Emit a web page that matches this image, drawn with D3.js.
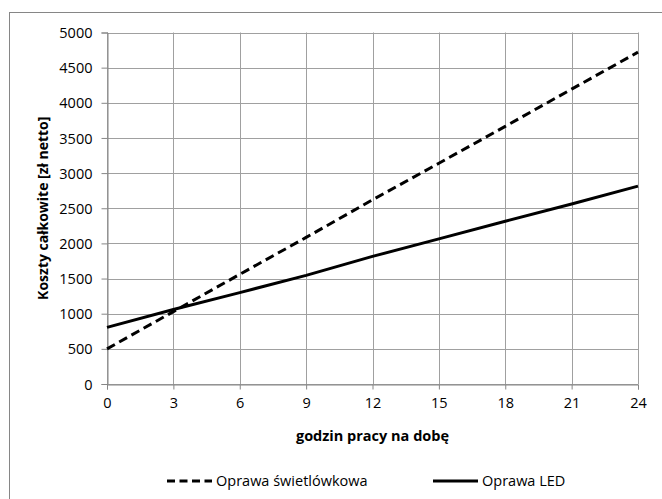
<!DOCTYPE html>
<html lang="pl">
<head>
<meta charset="utf-8">
<title>Koszty całkowite</title>
<script src="https://cdnjs.cloudflare.com/ajax/libs/d3/7.8.5/d3.min.js"></script>
<style>
  body { margin: 0; background: #fff; }
  svg text { font-family: "Open Sans", sans-serif; fill: #000; }
</style>
</head>
<body>
<div id="chart"></div>
<script>
// godziny pracy na dobę
const hours = [0, 3, 6, 9, 12, 15, 18, 21, 24];
// koszty całkowite [zł netto]
const fluorescent = [500, 1030, 1560, 2085, 2620, 3140, 3665, 4195, 4720];
const led = [805, 1060, 1300, 1545, 1815, 2065, 2315, 2560, 2815];
const xTicks = [0, 3, 6, 9, 12, 15, 18, 21, 24];
const yTicks = [0, 500, 1000, 1500, 2000, 2500, 3000, 3500, 4000, 4500, 5000];
const seriesNames = ['Oprawa świetlówkowa', 'Oprawa LED'];

const W = 662, H = 499;
const plotL = 107, plotR = 638, plotT = 32.5, plotB = 384;

const svg = d3.select('#chart').append('svg')
  .attr('width', W)
  .attr('height', H);

// outer frame
svg.append('rect')
  .attr('x', 9.5).attr('y', 12.5)
  .attr('width', 660).attr('height', 500)
  .attr('fill', 'none')
  .attr('stroke', '#868686')
  .attr('stroke-width', 1);

const x = d3.scaleLinear().domain([0, 24]).range([plotL, plotR]);
const y = d3.scaleLinear().domain([0, 5000]).range([plotB, plotT]);

// grid
svg.append('g')
  .selectAll('line')
  .data(yTicks)
  .enter().append('line')
  .attr('x1', plotL).attr('x2', plotR)
  .attr('y1', d => Math.round(y(d)) + 0.5)
  .attr('y2', d => Math.round(y(d)) + 0.5)
  .attr('stroke', '#a0a0a0');

svg.append('g')
  .selectAll('line')
  .data(xTicks)
  .enter().append('line')
  .attr('y1', plotT).attr('y2', plotB)
  .attr('x1', d => Math.round(x(d)) + 0.5)
  .attr('x2', d => Math.round(x(d)) + 0.5)
  .attr('stroke', '#a0a0a0');

// axes
const xAxis = svg.append('g')
  .attr('transform', 'translate(0,' + (Math.round(plotB) + 0.5) + ')')
  .call(d3.axisBottom(x).tickValues(xTicks).tickSize(5).tickPadding(8).tickFormat(d3.format('d')));
const yAxis = svg.append('g')
  .attr('transform', 'translate(' + (plotL + 0.5) + ',0)')
  .call(d3.axisLeft(y).tickValues(yTicks).tickSize(6).tickPadding(9).tickFormat(d3.format('d')));

[xAxis, yAxis].forEach(a => {
  a.select('.domain').attr('stroke', '#868686');
  a.selectAll('.tick line').attr('stroke', '#868686');
  a.selectAll('.tick text')
    .attr('font-size', '14.5px')
    .attr('font-family', '"Open Sans", sans-serif')
    .attr('fill', '#000');
});
yAxis.selectAll('.tick text').attr('dy', '0.35em');

// axis titles
svg.append('text')
  .attr('x', (plotL + plotR) / 2)
  .attr('y', 441)
  .attr('text-anchor', 'middle')
  .attr('font-size', '14.5px')
  .attr('font-weight', 'bold')
  .text('godzin pracy na dobę');

svg.append('text')
  .attr('transform', 'translate(48,' + ((plotT + plotB) / 2) + ') rotate(-90)')
  .attr('text-anchor', 'middle')
  .attr('font-size', '14px')
  .attr('font-weight', 'bold')
  .text('Koszty całkowite [zł netto]');

// series
const line = d3.line()
  .x(d => x(d[0]))
  .y(d => y(d[1]));

svg.append('path')
  .datum(hours.map((h, i) => [h, fluorescent[i]]))
  .attr('d', line)
  .attr('fill', 'none')
  .attr('stroke', '#000')
  .attr('stroke-width', 3)
  .attr('stroke-dasharray', '9,5');

svg.append('path')
  .datum(hours.map((h, i) => [h, led[i]]))
  .attr('d', line)
  .attr('fill', 'none')
  .attr('stroke', '#000')
  .attr('stroke-width', 3)
  .attr('stroke-linejoin', 'round');

// legend
const legend = svg.append('g').attr('transform', 'translate(0,481)');
const legX = [167, 433];
const legDash = ['8,4.5', null];

legend.selectAll('g')
  .data(seriesNames)
  .enter().append('g')
  .each(function (d, i) {
    const g = d3.select(this);
    g.append('line')
      .attr('x1', legX[i]).attr('x2', legX[i] + 45)
      .attr('y1', 0).attr('y2', 0)
      .attr('stroke', '#000')
      .attr('stroke-width', 3)
      .attr('stroke-dasharray', legDash[i]);
    g.append('text')
      .attr('x', legX[i] + 49)
      .attr('y', 0)
      .attr('dy', '0.35em')
      .attr('font-size', '14.5px')
      .text(d);
  });
</script>
</body>
</html>
